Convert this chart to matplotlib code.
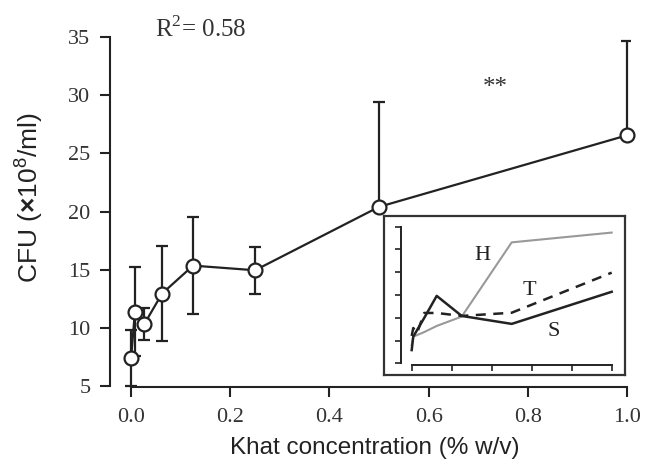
import numpy as np
import matplotlib
matplotlib.use('Agg')
import matplotlib.pyplot as plt

plt.rcParams['mathtext.fontset'] = 'custom'
plt.rcParams['mathtext.rm'] = 'Liberation Serif'
plt.rcParams['mathtext.sf'] = 'Liberation Sans'
plt.rcParams['mathtext.bf'] = 'Liberation Sans:bold'

# main data: khat concentration vs CFU
conc = [0.0, 0.0078, 0.027, 0.0625, 0.125, 0.25, 0.5, 1.0]
cfu = [7.4, 11.4, 10.35, 12.95, 15.35, 14.95, 20.4, 26.55]
err_low = [2.4, 3.8, 1.4, 4.05, 4.2, 2.0, 0.0, 0.0]
err_high = [2.4, 3.8, 1.4, 4.05, 4.2, 2.0, 9.0, 8.1]

y_ticks = [5, 10, 15, 20, 25, 30, 35]
x_ticks = [0.0, 0.2, 0.4, 0.6, 0.8, 1.0]

# inset curves (arbitrary units, one per tick step)
inset_h = [0.8, 1.17, 1.24, 1.37, 1.64, 2.05, 5.31, 5.74]
inset_t = [1.2, 1.55, 1.33, 2.21, 2.21, 2.08, 2.22, 3.98]
inset_s = [0.58, 1.17, 1.46, 1.99, 2.96, 2.08, 1.73, 3.14]

W, H = 647, 466
serif = 'Liberation Serif'
sans = 'Liberation Sans'
ink = '#222222'


def px_box(left, top, right, bottom):
    # pixel box -> figure fraction rect
    return [left / W, 1 - bottom / H, (right - left) / W, (bottom - top) / H]


fig = plt.figure(figsize=(W / 100, H / 100), dpi=100)
ax = fig.add_axes(px_box(110, 33.5, 629.5, 387.2))

ax.plot(conc, cfu, color=ink, lw=1.6, zorder=2)
ax.errorbar(conc, cfu, yerr=[err_low, err_high], fmt='none', ecolor=ink,
            elinewidth=1.6, capsize=4, capthick=1.6, zorder=3)
ax.plot(conc, cfu, 'o', ms=10, mfc='white', mec=ink, mew=1.6, zorder=4,
        clip_on=False)

ax.set_xlim(-0.0425, 1.005)
ax.set_ylim(4.9, 35.3)
for side in ['top', 'right']:
    ax.spines[side].set_visible(False)
ax.spines['left'].set_bounds(5, 35)
ax.spines['bottom'].set_bounds(0, 1)
for side in ['left', 'bottom']:
    ax.spines[side].set_linewidth(1.5)
    ax.spines[side].set_color(ink)
ax.set_yticks(y_ticks)
ax.set_xticks(x_ticks)
ax.set_xticklabels(['%.1f' % v for v in x_ticks])
ax.tick_params(axis='both', direction='out', length=7, width=1.5, color=ink,
               labelsize=16, labelcolor='#333333')
ax.tick_params(axis='y', pad=7)
ax.tick_params(axis='x', pad=8)
for lab in ax.get_xticklabels() + ax.get_yticklabels():
    lab.set_fontfamily(serif)

ax.set_xlabel('Khat concentration (% w/v)', fontsize=17.5, family=sans, color='#222222')
ax.set_ylabel(r'CFU ($\mathbf{\times}$10$^{\mathsf{8}}$/ml)', fontsize=19, family=sans,
              color='#222222')
ax.xaxis.set_label_coords(0.51, -0.142)
ax.yaxis.set_label_coords(-0.125, 0.535)

fig.text(155 / W, 1 - 37 / H, r'R$^{\mathrm{2}}$= 0.58', fontsize=18, family=serif,
         color='#333333', va='baseline')
fig.text(495.7 / W, 1 - 94 / H, '**', fontsize=18, family=serif, color='#333333',
         ha='center', va='baseline')

# inset frame
frame = fig.add_axes(px_box(384, 216, 625, 375))
frame.set_xticks([])
frame.set_yticks([])
frame.patch.set_facecolor('white')
for sp in frame.spines.values():
    sp.set_linewidth(1.6)
    sp.set_color('#333333')

# inset plot
ins = fig.add_axes(px_box(400.7, 222.1, 617.7, 365))
ins.patch.set_alpha(0)
ins.plot(conc, inset_h, color='#999999', lw=1.5)
ins.plot(conc, inset_t, color=ink, lw=1.8, dashes=(4, 3))
ins.plot(conc, inset_s, color=ink, lw=1.8)
ins.set_xlim(-0.055, 1.03)
ins.set_ylim(-0.075, 6.2)
for side in ['top', 'right']:
    ins.spines[side].set_visible(False)
ins.spines['left'].set_bounds(0, 6)
ins.spines['bottom'].set_bounds(0, 1)
for side in ['left', 'bottom']:
    ins.spines[side].set_linewidth(1.4)
    ins.spines[side].set_color(ink)
ins.set_xticks(x_ticks)
ins.set_yticks(range(7))
ins.tick_params(axis='both', direction='out', length=4, width=1.2, color=ink,
                labelbottom=False, labelleft=False)

for label, (px, py) in [('H', (482.7, 253)), ('T', (529, 287.7)), ('S', (554, 329))]:
    fig.text(px / W, 1 - py / H, label, fontsize=16, family=serif, color='#222222',
             ha='center', va='center_baseline')

fig.savefig('out.png', dpi=100)
